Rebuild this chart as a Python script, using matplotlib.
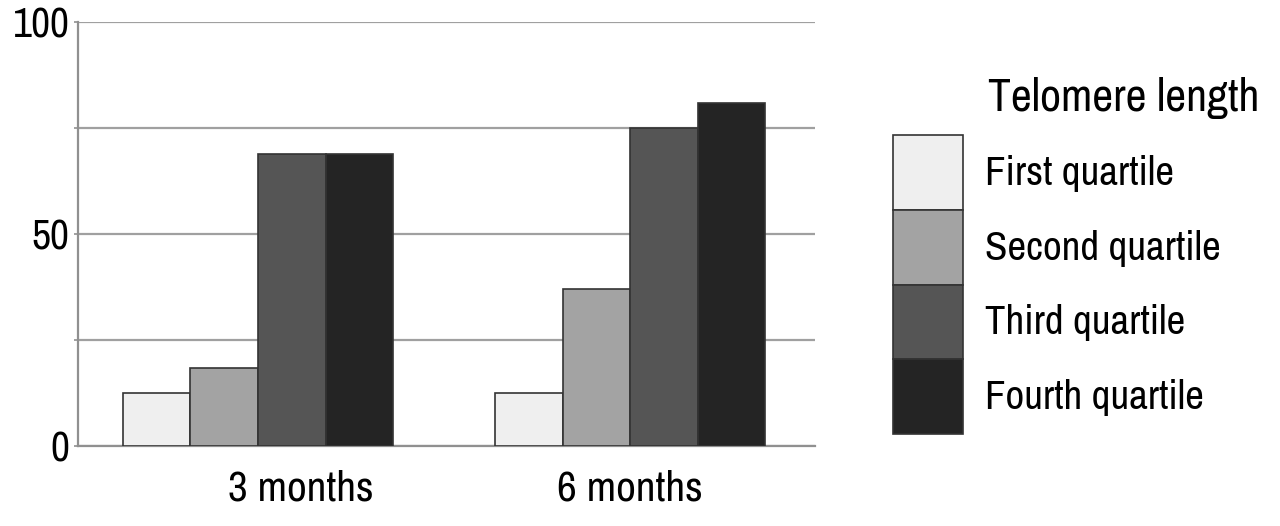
import numpy as np
import matplotlib.pyplot as plt
import matplotlib.transforms as mtransforms

# Data
groups = ['3 months', '6 months']
quartiles = ['First quartile', 'Second quartile', 'Third quartile', 'Fourth quartile']
first_q = [12.5, 12.5]
second_q = [18.5, 37.0]
third_q = [69.0, 75.0]
fourth_q = [69.0, 81.0]
colors = ['#efefef', '#a3a3a3', '#555555', '#242424']

plt.rcParams['font.family'] = ['Archivo Narrow', 'Roboto Condensed', 'DejaVu Sans']

fig = plt.figure(figsize=(12.8, 5.26), dpi=100)
ax = fig.add_axes([0.0609, 0.152, 0.5758, 0.806])

x = np.arange(len(groups))
width = 0.1815
series = [first_q, second_q, third_q, fourth_q]
for i, (vals, name, col) in enumerate(zip(series, quartiles, colors)):
    ax.bar(x + (i - 1.5) * width, vals, width, color=col, edgecolor='#333333',
           linewidth=1.2, label=name, zorder=3)

ax.set_xlim(-0.484, 1.497)
ax.set_ylim(0, 100)
ax.set_yticks([0, 25, 50, 75, 100])
ax.set_yticklabels(['0', '', '50', '', '100'])
ax.yaxis.grid(True, color='#a0a0a0', linewidth=1.6, zorder=0)
ax.set_xticks(x)
ax.set_xticklabels(groups)
ax.tick_params(axis='x', length=0, pad=17, labelsize=31)
ax.tick_params(axis='y', length=3, width=1.2, color='#909090', pad=3, labelsize=30)
for s in ['top', 'right']:
    ax.spines[s].set_visible(False)
for s in ['left', 'bottom']:
    ax.spines[s].set_color('#909090')
    ax.spines[s].set_linewidth(1.6)

# first category label sits right of its group centre in the original
lab = ax.get_xticklabels()[0]
lab.set_transform(lab.get_transform() + mtransforms.ScaledTranslation(0.43, 0, fig.dpi_scale_trans))

fig.text(0.772, 0.813, 'Telomere length', fontsize=33, va='center', ha='left')
leg = fig.legend(loc='upper left', bbox_to_anchor=(0.6977, 0.7433), frameon=False,
                 fontsize=29.5, handlelength=1.71, handleheight=2.43, labelspacing=0,
                 handletextpad=0.54, borderpad=0, borderaxespad=0)

fig.savefig('out.png', dpi=100)
